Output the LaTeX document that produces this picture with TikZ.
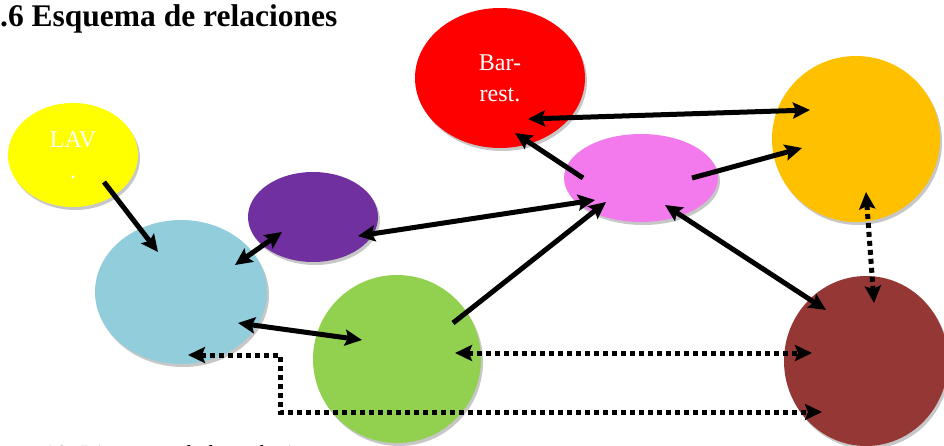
\documentclass[tikz,border=0pt]{standalone}
\usepackage{fontspec}
\setmainfont{Liberation Serif}
\usetikzlibrary{shapes.geometric,arrows.meta,calc,shadows}
\definecolor{cyel}{HTML}{FFFF00}
\definecolor{cred}{HTML}{FF0000}
\definecolor{corg}{HTML}{FFC000}
\definecolor{cpur}{HTML}{7030A0}
\definecolor{cpnk}{HTML}{F27AEC}
\definecolor{cblu}{HTML}{92CDDC}
\definecolor{cgrn}{HTML}{92D050}
\definecolor{cmar}{HTML}{953735}
\begin{document}
\begin{tikzpicture}[x=1pt,y=-1pt,
  blob/.style={ellipse, inner sep=0pt, text=white, align=center,
    font=\fontsize{24}{31}\selectfont,
    drop shadow={shadow xshift=2pt, shadow yshift=-3pt, opacity=0.22, fill=black}},
  >={Stealth[length=17pt,width=16pt,inset=3pt]},
  rel/.style={line width=5pt},
  dotrel/.style={line width=5pt, dash pattern=on 5pt off 4pt}]
\path[use as bounding box] (0,0) rectangle (944,446);
\clip (0,0) rectangle (944,446);
\node[anchor=base west, font=\bfseries\fontsize{31.5}{36}\selectfont, inner sep=0pt] (title) at (0,27) {.6 Esquema de relaciones};
\node[anchor=base west, font=\itshape\fontsize{23}{28}\selectfont, inner sep=0pt] (cap) at (42,461) {16. Diagrama de las relaci};
% ellipses
\node[blob, fill=cyel, minimum width=130pt, minimum height=104pt] (lav) at (73,155) {LAV\\.};
\node[blob, fill=cred, minimum width=170pt, minimum height=140pt] (red) at (500,78) {Bar-\\rest.};
\node[blob, fill=corg, minimum width=168pt, minimum height=166pt] (org) at (856,139) {};
\node[blob, fill=cpur, minimum width=130pt, minimum height=90pt] (pur) at (313,217) {};
\node[blob, fill=cpnk, minimum width=154pt, minimum height=88pt] (pnk) at (641,178) {};
\node[blob, fill=cblu, minimum width=172pt, minimum height=144pt] (blu) at (181,292) {};
\node[blob, fill=cgrn, minimum width=168pt, minimum height=168pt] (grn) at (397,359) {};
\node[blob, fill=cmar, minimum width=164pt, minimum height=170pt] (mar) at (866,361) {};
% connector end points
\coordinate (a1) at ($(lav)+(31,27)$);   \coordinate (b1) at ($(blu)+(-23,-40)$);
\coordinate (a2) at ($(pur)+(-31,15)$);  \coordinate (b2) at ($(blu)+(54,-27)$);
\coordinate (a3) at ($(pur)+(45,19)$);   \coordinate (b3) at ($(pnk)+(-46,22)$);
\coordinate (a4) at ($(pnk)+(-58,0)$);   \coordinate (b4) at ($(red)+(15,55)$);
\coordinate (a5) at ($(red)+(28,41)$);   \coordinate (b5) at ($(org)+(-46,-29)$);
\coordinate (a6) at ($(pnk)+(51,0)$);    \coordinate (b6) at ($(org)+(-54,9)$);
\coordinate (a7) at ($(grn)+(56,-36)$);  \coordinate (b7) at ($(pnk)+(-35,24)$);
\coordinate (a8) at ($(pnk)+(24,27)$);   \coordinate (b8) at ($(mar)+(-40,-51)$);
\coordinate (a9) at ($(blu)+(57,31)$);   \coordinate (b9) at ($(grn)+(-35,-19)$);
\coordinate (a10) at ($(org)+(10,53)$);  \coordinate (b10) at ($(mar)+(8,-58)$);
\coordinate (a11) at ($(grn)+(58,-6)$);  \coordinate (b11) at ($(mar)+(-54,-8)$);
\coordinate (a12) at ($(blu)+(7,63)$);   \coordinate (b12) at ($(mar)+(-44,51)$);
% connectors
\draw[rel,->] (a1) -- (b1);
\draw[rel,<->] (a2) -- (b2);
\draw[rel,<->] (a3) -- (b3);
\draw[rel,->] (a4) -- (b4);
\draw[rel,<->] (a5) -- (b5);
\draw[rel,->] (a6) -- (b6);
\draw[rel,->] (a7) -- (b7);
\draw[rel,<->] (a8) -- (b8);
\draw[rel,<->] (a9) -- (b9);
\draw[dotrel,<->] (a10) -- (b10);
\draw[dotrel,<->] (a11) -- (b11);
\draw[dotrel,<->] (a12) -- ++(92,0) |- (b12);
\end{tikzpicture}
\end{document}
